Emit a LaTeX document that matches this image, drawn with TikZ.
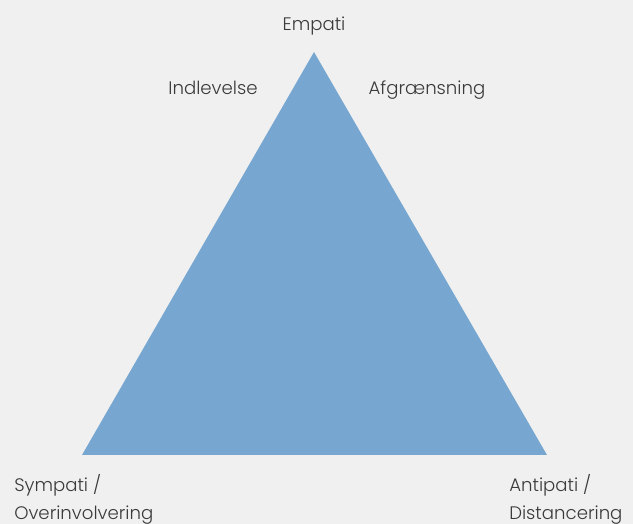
\documentclass[tikz,border=0pt]{standalone}
\usepackage{fontspec}
\setmainfont{Poppins}[UprightFont=* Light]
\definecolor{bg}{HTML}{F0F0F0}
\definecolor{tri}{HTML}{77A7D0}
\definecolor{txt}{HTML}{3A3A3A}
\begin{document}
\begin{tikzpicture}[x=0.75pt,y=-0.75pt,
  lbl/.style={inner sep=0pt,text=txt,font=\fontsize{13.6}{20}\selectfont}]
\fill[bg] (0,0) rectangle (633,524);
\useasboundingbox (0,0) rectangle (633,524);
\coordinate (A) at (314,52);
\coordinate (B) at (82,455);
\coordinate (C) at (547,455);
\fill[tri] (A) -- (B) -- (C) -- cycle;
\node[lbl,anchor=base] (emp) at (314,31) {Empati};
\node[lbl,anchor=base] (ind) at (213,95) {Indlevelse};
\node[lbl,anchor=base] (afg) at (427,95) {Afgrænsning};
\node[lbl,anchor=base west] (sym1) at (14,492) {Sympati /};
\node[lbl,anchor=base west] (sym2) at (14,519) {Overinvolvering};
\node[lbl,anchor=base west] (ant1) at (509,492) {Antipati /};
\node[lbl,anchor=base west] (ant2) at (509,519) {Distancering};
\end{tikzpicture}
\end{document}
